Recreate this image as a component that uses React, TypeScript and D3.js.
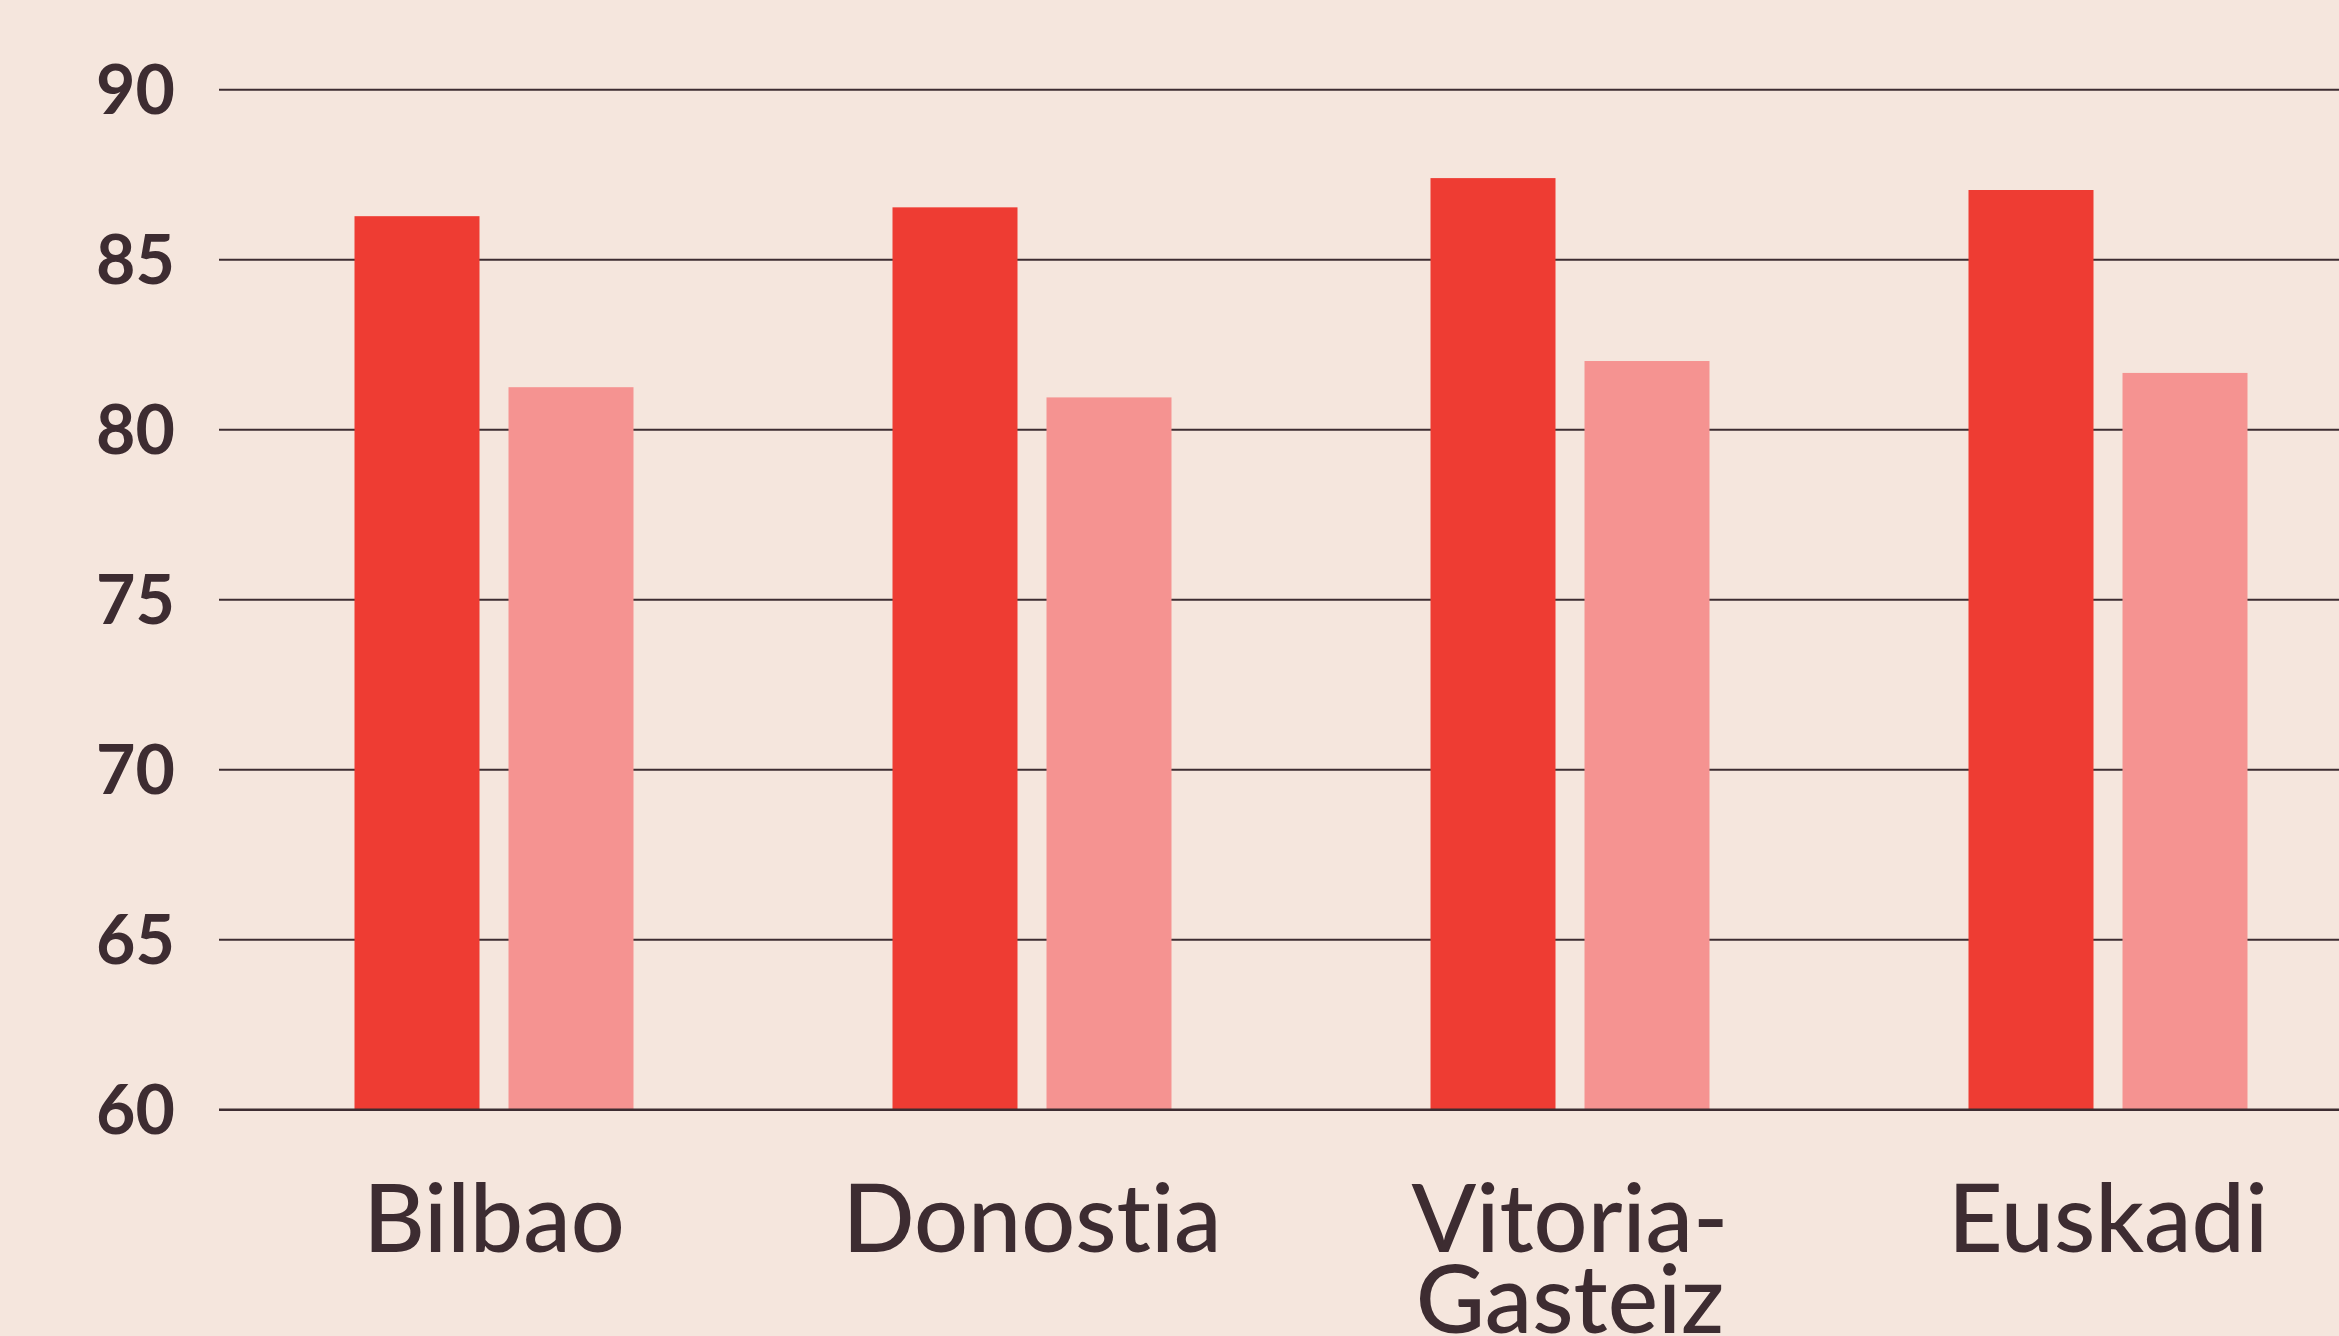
import React, { useEffect } from 'react';
import * as d3 from 'd3';

const categories = ['Bilbao', 'Donostia', 'Vitoria-\nGasteiz', 'Euskadi'];
const seriesNames = ['a', 'b'];
const seriesA = [86.28, 86.54, 87.4, 87.05];
const seriesB = [81.25, 80.95, 82.02, 81.67];
const yTicks = [60, 65, 70, 75, 80, 85, 90];

const width = 2339;
const height = 1336;
const bg = '#F5E6DD';
const ink = '#3D2C31';
const colors = ['#EE3C33', '#F59391'];

const App = () => {
  useEffect(() => {
    document.body.style.margin = '0';
    document.body.style.overflow = 'hidden';
    document.body.style.background = bg;
  }, []);

  const y = d3.scaleLinear().domain([60, 90]).range([1109.7, 89.7]);
  const x0 = d3.scaleBand<string>().domain(categories).range([225, 2377]).padding(0);
  const groupWidth = 279;
  const x1 = d3
    .scaleBand<string>()
    .domain(seriesNames)
    .range([0, groupWidth])
    .paddingInner(29 / 154)
    .paddingOuter(0);

  const values = [seriesA, seriesB];
  const fontFamily = 'Lato, "Noto Sans", sans-serif';

  return (
    <svg width={width} height={height} viewBox={`0 0 ${width} ${height}`} style={{ display: 'block' }}>
      <rect width={width} height={height} fill={bg} />
      {yTicks.map((t) => (
        <g key={t}>
          {t !== 60 && (
            <line x1={219} x2={width} y1={y(t)} y2={y(t)} stroke={ink} strokeWidth={2} />
          )}
          <text
            x={175}
            y={y(t) + 24}
            textAnchor="end"
            fontFamily={fontFamily}
            fontWeight={700}
            fontSize={68}
            fill={ink}
          >
            {t}
          </text>
        </g>
      ))}
      {categories.map((c, i) => {
        const gx = (x0(c) ?? 0) + x0.bandwidth() / 2 - groupWidth / 2;
        return (
          <g key={c}>
            {seriesNames.map((s, j) => (
              <rect
                key={s}
                x={gx + (x1(s) ?? 0)}
                y={y(values[j][i])}
                width={x1.bandwidth()}
                height={y(60) - y(values[j][i])}
                fill={colors[j]}
              />
            ))}
          </g>
        );
      })}
      <line x1={219} x2={width} y1={y(60)} y2={y(60)} stroke={ink} strokeWidth={2.5} />
      {categories.map((c) => {
        const cx = (x0(c) ?? 0) + x0.bandwidth() / 2;
        const lines = c.split('\n');
        return (
          <text
            key={c}
            x={cx}
            y={1252}
            textAnchor="middle"
            fontFamily={fontFamily}
            fontWeight={500}
            fontSize={95}
            fill={ink}
            style={{ fontVariantLigatures: 'none' }}
          >
            {lines.map((l, k) => (
              <tspan key={k} x={cx} dy={k === 0 ? 0 : 81}>
                {l}
              </tspan>
            ))}
          </text>
        );
      })}
    </svg>
  );
};

export default App;
